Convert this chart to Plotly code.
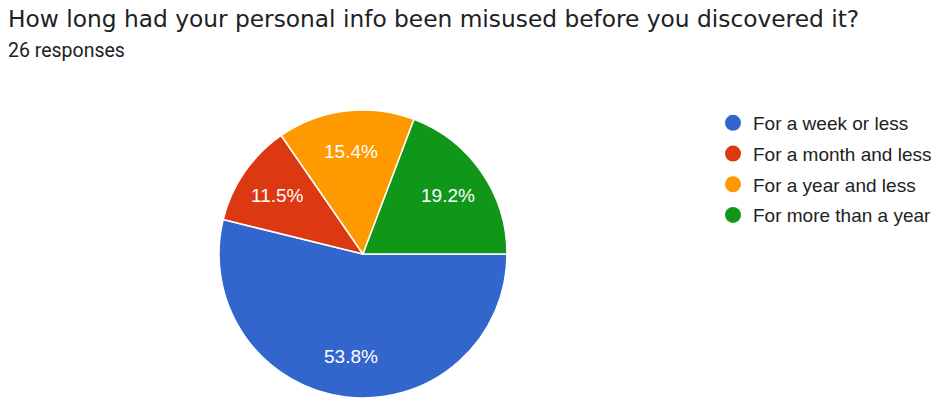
import math
import plotly.graph_objects as go

title = "How long had your personal info been misused before you discovered it?"
subtitle = "26 responses"
categories = ["For a week or less", "For a month and less", "For a year and less", "For more than a year"]
responses = [14, 3, 4, 5]
colors = ["#3366cc", "#dc3912", "#ff9900", "#109618"]

W, H = 940, 398
# pie placement in pixels
PX0, PX1, PY0, PY1 = 219, 507, 0, 288
START_DEG = 90  # first slice starts at 3 o'clock, runs clockwise

fig = go.Figure()
fig.add_trace(go.Pie(
    labels=categories,
    values=responses,
    sort=False,
    direction="clockwise",
    rotation=START_DEG,
    marker=dict(colors=colors, line=dict(color="white", width=1.5)),
    textinfo="none",
    domain=dict(x=[PX0 / W, PX1 / W], y=[PY0 / H, PY1 / H]),
    showlegend=False,
    hoverinfo="label+percent",
))

# percentage labels placed at each slice's mid-angle
total = sum(responses)
cx, cy = (PX0 + PX1) / 2, (PY0 + PY1) / 2
r = (PX1 - PX0) / 2
annotations = []
acc = 0
for v in responses:
    mid = math.radians(START_DEG + 360 * (acc + v / 2) / total)
    acc += v
    lx = cx + 0.72 * r * math.sin(mid)
    ly = cy + 0.72 * r * math.cos(mid)
    annotations.append(dict(
        text=f"{100 * v / total:.1f}%", x=lx / W, y=ly / H,
        xref="paper", yref="paper", xanchor="center", yanchor="middle",
        showarrow=False,
        font=dict(family="Arial, Liberation Sans", size=19, color="white"),
    ))

# legend entries with round markers
for name, c in zip(categories, colors):
    fig.add_trace(go.Scatter(
        x=[None], y=[None], mode="markers", name=name,
        legendgroup=name,
        marker=dict(symbol="circle", size=18, color=c),
    ))

annotations += [
    dict(text=title, x=6 / W, y=1 - 3 / H, xref="paper", yref="paper",
         xanchor="left", yanchor="top", showarrow=False,
         font=dict(family="DejaVu Sans", size=23.3, color="#202124")),
    dict(text=subtitle, x=6 / W, y=1 - 37 / H, xref="paper", yref="paper",
         xanchor="left", yanchor="top", showarrow=False,
         font=dict(family="Roboto", size=19.5, color="#202124")),
]

fig.update_layout(
    width=W, height=H,
    margin=dict(l=0, r=0, t=0, b=0),
    paper_bgcolor="white", plot_bgcolor="white",
    xaxis=dict(visible=False), yaxis=dict(visible=False),
    legend=dict(
        x=713 / W, y=1 - 104 / H, xanchor="left", yanchor="top",
        font=dict(family="Arial, Liberation Sans", size=19, color="#222222"),
        tracegroupgap=3, itemwidth=30,
        bgcolor="rgba(0,0,0,0)",
    ),
    annotations=annotations,
)

fig.write_html("out.html")
